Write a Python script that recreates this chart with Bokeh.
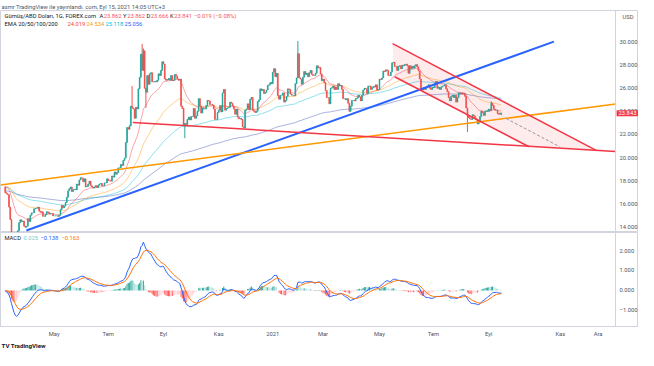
import numpy as np
import pandas as pd
from bokeh.plotting import figure
from bokeh.models import Range1d, FixedTicker, Label, ColumnDataSource, NumeralTickFormatter, LinearAxis, Title
from bokeh.layouts import column
from bokeh.embed import file_html
from bokeh.resources import INLINE

FONT = "Roboto"

# ---------------- data (daily closes, XAG/USD, FOREX.com, 1G) ----------------
start_date = "2020-03-09"
end_date = "2021-09-15"
skip_dates = ["2020-12-25", "2021-01-01"]
first_open = 17.45
closes = [
    16.95, 16.85, 16.78, 15.70, 14.62,
    12.90, 12.65, 11.95, 12.30, 12.55,
    13.65, 14.35, 14.60, 14.45, 14.50,
    14.05, 13.95, 14.05, 14.70, 14.45,
    15.00, 15.20, 15.20, 15.55, 15.60,
    15.60, 15.70, 15.35, 15.25, 15.30,
    14.90, 14.90, 15.05, 15.30, 15.25,
    15.10, 15.15, 15.15, 14.95, 14.95,
    14.95, 14.95, 14.90, 15.00, 15.50,
    15.85, 15.65, 15.80, 16.10, 16.55,
    17.10, 17.30, 17.45, 17.05, 17.20,
    17.25, 17.20, 17.70, 17.60, 18.05,
    18.25, 18.20, 17.90, 18.15, 17.45,
    17.50, 17.70, 17.95, 17.55, 17.45,
    17.35, 17.45, 17.55, 17.40, 17.60,
    17.70, 17.75, 17.55, 17.55, 17.80,
    17.80, 18.15, 18.00, 18.00, 17.95,
    18.40, 18.30, 18.75, 18.55, 18.70,
    19.10, 19.10, 19.40, 19.30, 19.75,
    19.95, 21.30, 22.60, 22.45, 22.75,
    24.45, 24.30, 24.20, 23.40, 24.35,
    24.20, 25.95, 26.95, 28.95, 27.55,
    29.25, 26.00, 25.65, 27.10, 26.35,
    27.25, 27.35, 26.55, 26.55, 26.60,
    26.55, 26.70, 27.25, 27.10, 27.55,
    28.30, 28.10, 26.80, 26.70, 26.75,
    26.85, 26.70, 27.10, 26.65, 26.70,
    27.20, 27.05, 26.80, 26.70, 26.80,
    24.45, 24.25, 22.80, 22.95, 22.85,
    23.30, 23.50, 23.25, 23.55, 23.55,
    24.25, 23.40, 23.60, 24.00, 25.10,
    24.45, 23.85, 24.30, 24.20, 24.20,
    24.50, 24.95, 24.90, 24.60, 24.60,
    24.55, 24.20, 23.30, 23.30, 23.90,
    24.10, 24.50, 23.95, 25.60, 25.90,
    24.10, 24.25, 24.30, 24.35, 24.80,
    24.70, 24.45, 24.20, 23.75, 24.20,
    23.50, 23.35, 23.40, 23.30, 22.65,
    22.55, 24.10, 24.20, 24.65, 24.15,
    25.05, 25.20, 24.10, 24.00, 23.90,
    24.00, 24.85, 25.00, 25.95, 25.80,
    25.90, 25.55, 25.65, 25.85,
    26.25, 26.30, 26.50, 26.40,
    27.40, 27.70, 27.00, 27.30, 25.35,
    25.05, 25.40, 25.40, 25.60, 24.80,
    24.95, 25.30, 25.95, 25.90, 25.50,
    25.40, 25.40, 25.35, 26.40, 26.90,
    29.00, 26.90, 26.80, 26.35, 26.95,
    27.45, 27.20, 27.30, 27.00, 27.35,
    27.55, 27.20, 27.10, 27.10, 27.30,
    27.95, 27.75, 27.80, 27.25, 26.65,
    26.80, 26.50, 25.80, 25.20, 25.20,
    24.65, 26.00, 26.05, 26.20, 25.90,
    26.10, 25.90, 26.40, 26.20, 26.25,
    25.90, 25.10, 25.10, 25.00, 25.10,
    24.70, 24.00, 24.45, 24.95, 24.95,
    24.90, 25.10, 25.15, 25.40, 25.25,
    24.90, 25.40, 25.85, 26.00, 25.95,
    25.55, 26.20, 26.20, 25.90, 26.05,
    26.15, 26.10, 26.30, 25.85, 25.90,
    26.80, 26.75, 26.90, 27.50, 27.45,
    27.60, 27.55, 27.10, 27.10, 27.40,
    28.20, 28.25, 27.90, 27.90, 27.55,
    27.90, 27.95, 27.70, 28.00, 27.95,
    28.05, 28.10, 27.95, 27.30, 27.95,
    27.70, 27.90, 27.75, 27.95, 28.05,
    27.85, 27.50, 26.80, 25.95, 25.85,
    26.05, 25.90, 26.10, 26.20, 26.30,
    26.00, 25.90, 26.10, 26.05, 26.45,
    26.60, 26.00, 26.10, 25.90, 26.10,
    26.20, 26.20, 26.30, 25.95, 25.70,
    25.20, 24.90, 25.30, 25.40, 25.20,
    25.40, 24.80, 25.20, 25.60, 25.50,
    25.60, 25.50, 25.55, 25.30, 24.30,
    23.60, 23.45, 23.35, 23.30, 23.70,
    23.60, 23.40, 23.30, 22.90, 23.10,
    23.55, 24.00, 23.90, 23.65, 24.00,
    24.05, 24.00, 24.20, 24.05, 24.70,
    24.50, 24.20, 24.10, 24.10, 23.80,
    23.75, 23.86, 23.841,
]
high_dates = ["2020-07-28", "2020-08-07", "2020-08-10", "2021-02-01", "2021-09-03", "2021-09-15"]
high_vals = [26.20, 29.85, 29.45, 30.10, 24.87, 23.862]
low_dates = ["2020-03-18", "2020-08-12", "2020-09-24", "2021-08-09", "2021-09-15"]
low_vals = [11.64, 24.30, 21.67, 22.20, 23.666]

# EMA values at the left edge of the view
ema_seed = {20: 17.55, 50: 17.55, 100: 17.40, 200: 17.10}
macd_seed = 17.45

# drawings (bar index, price)
AXIS_X = 485.95  # bar position of the price scale border
blue_x, blue_y = [16.8, 436.8], [13.67, 30.04]
orange_x, orange_y = [-3.8, AXIS_X], [17.62, 24.64]
support_x, support_y = [101.6, AXIS_X], [23.04, 20.51]
ch_up_x, ch_up_y = [308.4, 470.9], [29.87, 20.59]
ch_lo_x, ch_lo_y = [310.0, 417.0], [27.00, 20.93]
dash_x, dash_y = [398.8, 441.5], [23.38, 20.93]

price_ticks = [14, 16, 18, 20, 22, 24, 26, 28, 30]
macd_ticks = [-1, 0, 1, 2]
month_dates = ["2020-05-01", "2020-07-01", "2020-09-01", "2020-11-01", "2021-01-01",
               "2021-03-01", "2021-05-01", "2021-07-01", "2021-09-01", "2021-11-01", "2021-12-01"]
month_labels = ["May", "Tem", "Eyl", "Kas", "2021", "Mar", "May", "Tem", "Eyl", "Kas", "Ara"]
last_price = 23.843

# ---------------- derived ----------------
dates = pd.bdate_range(start_date, end_date)
dates = dates[~dates.isin(pd.to_datetime(skip_dates))]
assert len(dates) == len(closes), (len(dates), len(closes))
n = len(closes)
idx = np.arange(n)
c = np.array(closes)
o = np.concatenate([[first_open], c[:-1]])
hi = np.maximum(o, c)
lo = np.minimum(o, c)
for d, v in zip(high_dates, high_vals):
    hi[dates.get_loc(pd.Timestamp(d))] = v
for d, v in zip(low_dates, low_vals):
    lo[dates.get_loc(pd.Timestamp(d))] = v
col = np.where(c >= o, "#26A69A", "#EF5350")


def ema(vals, period, seed):
    a = 2.0 / (period + 1)
    e = seed
    out = []
    for v in vals:
        e = e + a * (v - e)
        out.append(e)
    return np.array(out)


emas = {k: ema(c, k, s) for k, s in ema_seed.items()}
e12 = ema(c, 12, macd_seed)
e26 = ema(c, 26, macd_seed)
macd = e12 - e26
signal = ema(macd, 9, 0.0)
hist = macd - signal
hcol = []
for i, h in enumerate(hist):
    prev = hist[i - 1] if i > 0 else 0.0
    if h >= 0:
        hcol.append("#26A69A" if h > prev else "#B2DFDB")
    else:
        hcol.append("#FF5252" if h < prev else "#FFCDD2")

tick_idx = []
last_date = dates[-1]
for d in month_dates:
    t = pd.Timestamp(d)
    if t <= last_date:
        tick_idx.append(int(np.searchsorted(dates.values, t.to_datetime64())))
    else:
        tick_idx.append(int(n - 1 + (t - last_date).days))

src = ColumnDataSource(dict(x=idx, o=o, c=c, hi=hi, lo=lo, top=np.maximum(o, c),
                            bot=np.minimum(o, c), col=col))

# ---------------- figures ----------------
# frame spans the whole 638px width; price scale border drawn at AXIS_X (615px)
xr = Range1d(-3.77, 504.2)
p1 = figure(width=638, height=232, x_range=xr, y_range=Range1d(13.50, 32.74),
            output_backend="svg", toolbar_location=None, x_axis_location=None,
            y_axis_location=None, min_border_left=0, min_border_right=0,
            min_border_top=10, min_border_bottom=0)
p2 = figure(width=638, height=118, x_range=xr, y_range=Range1d(-1.81, 2.905),
            output_backend="svg", toolbar_location=None, x_axis_location="below",
            y_axis_location=None, min_border_left=0, min_border_right=0,
            min_border_top=0, min_border_bottom=22)

GREY = "#50535E"
for p, ticks in ((p1, price_ticks), (p2, macd_ticks)):
    p.grid.visible = False
    p.outline_line_color = "#D1D4DC"
    p.background_fill_color = "white"
    p.border_fill_color = "white"
    ax = LinearAxis(fixed_location=AXIS_X, ticker=FixedTicker(ticks=ticks))
    ax.axis_line_color = "#D1D4DC"
    ax.major_tick_line_color = None
    ax.minor_tick_line_color = None
    ax.major_tick_out = 0
    ax.major_tick_in = 0
    ax.major_label_text_font = FONT
    ax.major_label_text_font_size = "5.8px"
    ax.major_label_text_color = GREY
    ax.major_label_standoff = 4
    p.add_layout(ax, "right")
    if p is p1:
        ax.formatter = NumeralTickFormatter(format="0.000")
    else:
        ax.major_label_overrides = {t: (f"{t:.3f}".replace("-", "\u2212")) for t in ticks}

xa = p2.xaxis[0]
xa.ticker = FixedTicker(ticks=tick_idx)
xa.major_label_overrides = {t: l for t, l in zip(tick_idx, month_labels)}
xa.axis_line_color = "#D1D4DC"
xa.major_tick_line_color = None
xa.minor_tick_line_color = None
xa.major_tick_out = 0
xa.major_tick_in = 0
xa.major_label_text_font = FONT
xa.major_label_text_font_size = "5.8px"
xa.major_label_text_color = GREY
xa.major_label_standoff = 4

p1.title.text = "asmr TradingView ile yayınlandı. com, Eyl 15, 2021 14:05 UTC+3"
p1.title.text_font = FONT
p1.title.text_font_size = "5.8px"
p1.title.text_font_style = "normal"
p1.title.text_color = GREY
p1.title.align = "left"
p1.title.standoff = 1
p1.title.offset = 1

p2.add_layout(Title(text="TV TradingView", align="left", text_font=FONT, text_font_size="6.2px",
                    text_font_style="bold", text_color="#131722", standoff=1, offset=1), "below")

# drawings behind candles
p1.patch(ch_up_x + ch_lo_x[::-1], ch_up_y + ch_lo_y[::-1], fill_color="#F23645",
         fill_alpha=0.10, line_color=None)

# EMAs
ema_cols = {20: "#F23645", 50: "#FF9800", 100: "#00BCD4", 200: "#3F51B5"}
for k in (200, 100, 50, 20):
    p1.line(idx, emas[k], line_color=ema_cols[k], line_alpha=0.45, line_width=1)

# candles
p1.segment(x0="x", y0="lo", x1="x", y1="hi", source=src, line_color="col", line_width=1)
p1.vbar(x="x", width=0.75, top="top", bottom="bot", source=src, fill_color="col",
        line_color="col", line_width=0.5)

p1.line(blue_x, blue_y, line_color="#2962FF", line_width=2)
p1.line(orange_x, orange_y, line_color="#FF9800", line_width=1.5)
p1.line(support_x, support_y, line_color="#F23645", line_width=1.5)
p1.line(ch_up_x, ch_up_y, line_color="#F23645", line_width=1.5)
p1.line(ch_lo_x, ch_lo_y, line_color="#F23645", line_width=1.5)
p1.line(dash_x, dash_y, line_color="#9598A1", line_width=1, line_dash="3 2")

# MACD pane
p2.vbar(x=idx, width=0.75, top=hist, bottom=0, fill_color=hcol, line_color=None)
p2.line(idx, macd, line_color="#2962FF", line_width=1)
p2.line(idx, signal, line_color="#FF6D00", line_width=1)


def txt(p, x, y, s, color, size="5.8px", style="normal", xu="screen", yu="screen", **kw):
    p.add_layout(Label(x=x, y=y, x_units=xu, y_units=yu, text=s, text_color=color,
                       text_font=FONT, text_font_size=size, text_font_style=style,
                       text_baseline="middle", text_align="left", **kw))


DARK = "#131722"
RED = "#F7525F"
F1 = 222  # main frame height
y1 = F1 - 5
x0 = 4
txt(p1, x0, y1, "Gümüş/ABD Doları, 1G, FOREX.com", DARK)
for xl, letter, val in [(95, "A", "23.862"), (118.5, "Y", "23.862"), (142, "D", "23.666"),
                        (165.5, "K", "23.841")]:
    txt(p1, x0 + xl, y1, letter, DARK)
    txt(p1, x0 + xl + 4.2, y1, val, RED)
txt(p1, x0 + 189.5, y1, "\u22120.019 (\u22120.08%)", RED)
y2 = F1 - 13
txt(p1, x0, y2, "EMA 20/50/100/200", DARK)
txt(p1, x0 + 63, y2, "24.019", "#F44336")
txt(p1, x0 + 82, y2, "24.534", "#FF9800")
txt(p1, x0 + 101, y2, "25.118", "#00BCD4")
txt(p1, x0 + 120, y2, "25.056", "#2962FF")
txt(p1, AXIS_X, F1 - 6, "USD", GREY, xu="data", x_offset=7)
txt(p1, AXIS_X, last_price, "23.843", "white", size="5.8px", xu="data", yu="data",
    x_offset=1, background_fill_color="#F23645", padding=(2, 1))

txt(p2, x0, 89, "MACD", DARK)
txt(p2, x0 + 19, 89, "0.025", "#80CBC4")
txt(p2, x0 + 36, 89, "\u22120.138", "#2962FF")
txt(p2, x0 + 57, 89, "\u22120.163", "#FF6D00")

layout = column(p1, p2)
open("out.html", "w").write(file_html(layout, INLINE))
